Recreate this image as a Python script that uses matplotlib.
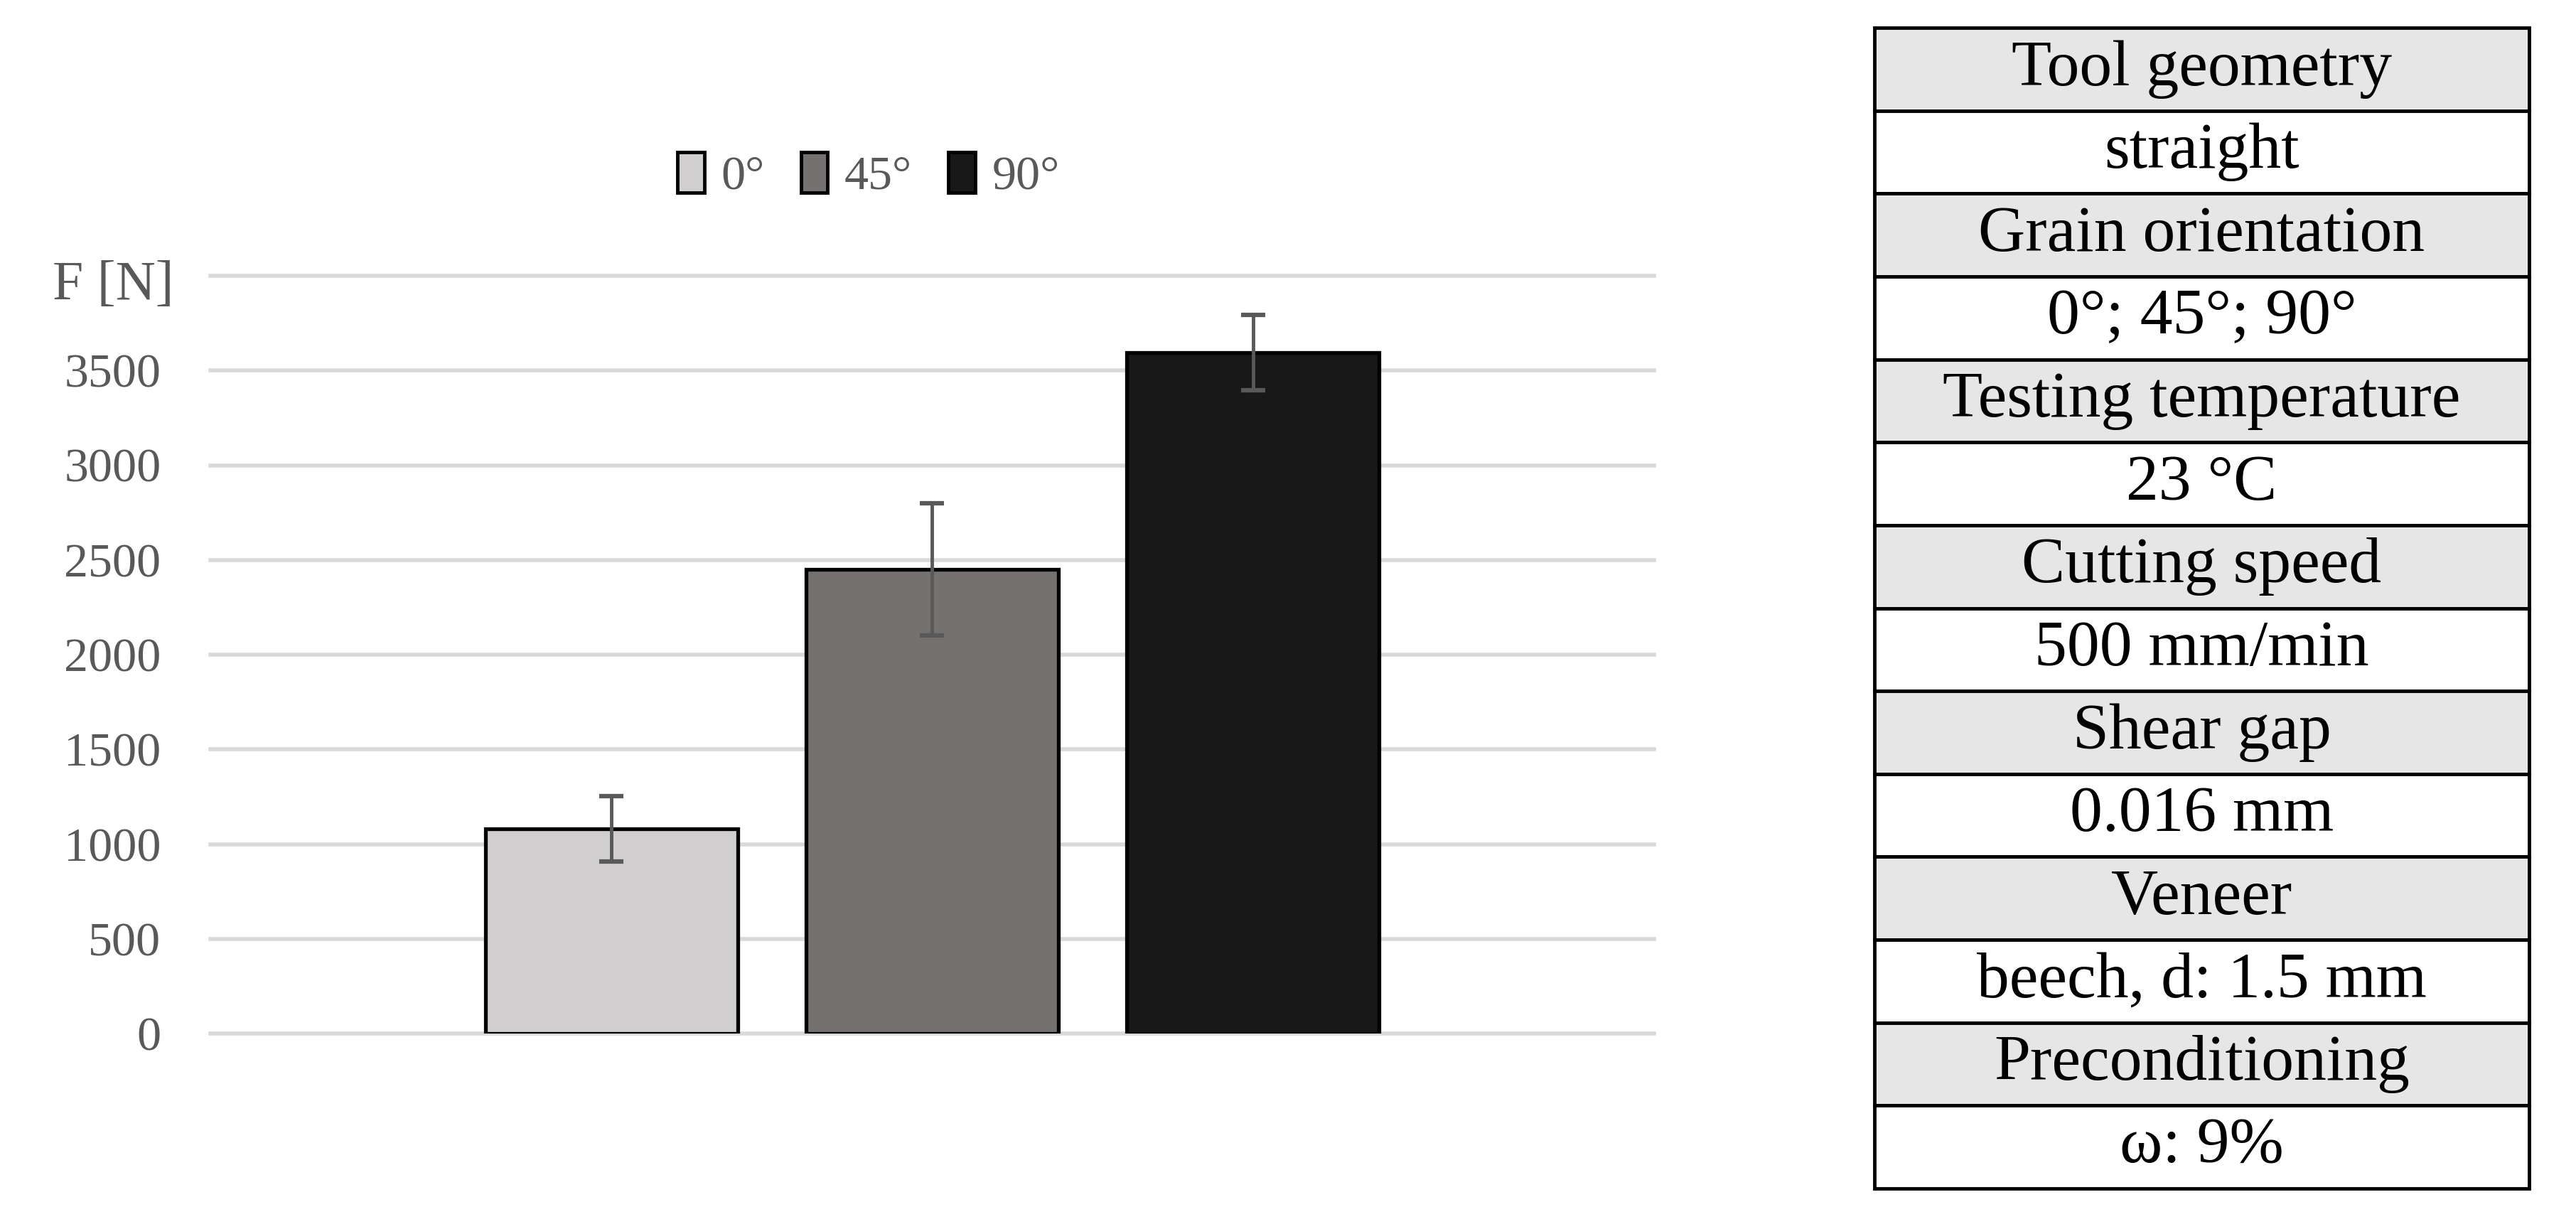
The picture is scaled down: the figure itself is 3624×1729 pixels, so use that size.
import matplotlib
matplotlib.use("Agg")
from matplotlib import pyplot as plt
from matplotlib.patches import Patch

plt.rcParams['font.family'] = ['Liberation Serif', 'DejaVu Serif']

# data
series = ["0°", "45°", "90°"]
force = [1080, 2450, 3595]
force_err = [172, 348, 200]
bar_colors = ["#D0CECE", "#757171", "#181818"]
yticks = [0, 500, 1000, 1500, 2000, 2500, 3000, 3500, 4000]
ytick_labels = ["0", "500", "1000", "1500", "2000", "2500", "3000", "3500", ""]

table_rows = [
    "Tool geometry", "straight",
    "Grain orientation", "0°; 45°; 90°",
    "Testing temperature", "23 °C",
    "Cutting speed", "500 mm/min",
    "Shear gap", "0.016 mm",
    "Veneer", "beech, d: 1.5 mm",
    "Preconditioning", "ω: 9%",
]

W, H = 3624, 1729
fig = plt.figure(figsize=(W / 100, H / 100), dpi=100)
gray_txt = "#595959"

# --- bar chart -------------------------------------------------------------
ax = fig.add_axes([296 / W, 1 - 1454 / H, (2327 - 296) / W, (1454 - 388) / H])
xpos = list(range(len(series)))
ax.bar(xpos, force, width=0.787, color=bar_colors, edgecolor="black", linewidth=3.8, zorder=2)
ax.errorbar(xpos, force, yerr=force_err, fmt="none", ecolor=gray_txt,
            elinewidth=3.5, capsize=12, capthick=4.5, zorder=3)
ax.set_xlim(-1.25, 3.25)
ax.set_ylim(0, 4000)
ax.set_yticks(yticks)
ax.set_yticklabels(ytick_labels)
ax.set_xticks([])
ax.tick_params(axis="y", length=0, pad=50, labelsize=49, labelcolor=gray_txt)
for s in ax.spines.values():
    s.set_visible(False)
ax.yaxis.grid(True, color="#D9D9D9", linewidth=4)
ax.set_axisbelow(True)
for gl in ax.get_ygridlines():
    gl.set_clip_on(False)

fig.text(245 / W, 1 - 402 / H, "F [N]", ha="right", va="center", fontsize=56, color=gray_txt)

handles = [Patch(facecolor=c, edgecolor="black", linewidth=3.5) for c in bar_colors]
fig.legend(handles, series, loc="center", bbox_to_anchor=(1222 / W, 1 - 247 / H), ncol=3,
           frameon=False, fontsize=49, labelcolor=gray_txt, handlelength=0.55, handleheight=0.9,
           handletextpad=0.35, columnspacing=0.75)

# --- parameter table -------------------------------------------------------
tax = fig.add_axes([2637 / W, 1 - 1672 / H, (3558 - 2637) / W, (1672 - 39) / H])
tax.axis("off")
cell_colors = [["#E6E6E6"] if i % 2 == 0 else ["white"] for i in range(len(table_rows))]
tbl = tax.table(cellText=[[r] for r in table_rows], cellColours=cell_colors,
                cellLoc="center", bbox=[0, 0, 1, 1])
tbl.auto_set_font_size(False)
for (r, c), cell in tbl.get_celld().items():
    cell.set_linewidth(3.5)
    cell.set_edgecolor("black")
    cell.get_text().set_fontsize(66)

fig.savefig("out.png", dpi=100)
